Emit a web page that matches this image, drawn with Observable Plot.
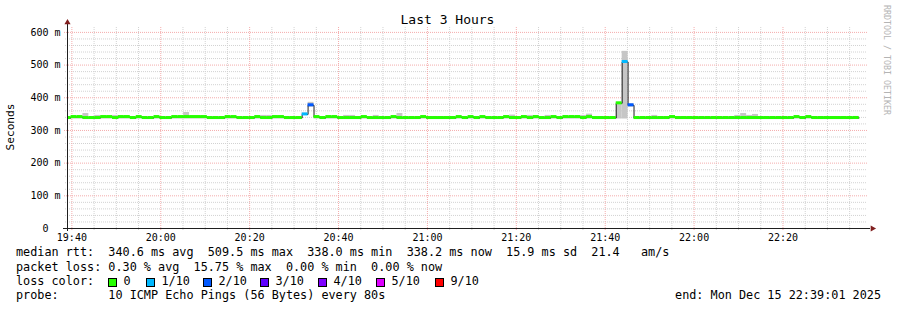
<!DOCTYPE html>
<html><head><meta charset="utf-8">
<script src="https://cdn.jsdelivr.net/npm/d3@7"></script>
<script src="https://cdn.jsdelivr.net/npm/@observablehq/plot@0.6"></script>
<style>
html,body{margin:0;padding:0;background:#fff;}
#wrap{position:relative;width:897px;height:310px;overflow:hidden;font-family:"DejaVu Sans Mono",monospace;color:#000;background:#fff;}
#wrap > svg{position:absolute;left:0;top:0;}
.t{position:absolute;white-space:pre;line-height:1;}
.sq{position:absolute;width:9px;height:9px;box-sizing:border-box;border:1px solid #000;}
</style></head><body><div id="wrap"></div>
<script>
// ---- data ----
const titleText = "Last 3 Hours";
const yAxisTitle = "Seconds";
const viewStart = new Date("2025-12-15T19:39:01Z");
const viewEnd = new Date("2025-12-15T22:39:01Z");
const firstSampleStart = new Date("2025-12-15T19:38:29Z");
const stepSeconds = 80;

const medianMs = [
  338,341,341,338,338,338,341,341,338,341,
  341,338,341,338,338,341,338,338,341,341,
  341,341,341,341,338,338,338,341,341,338,
  338,338,341,338,338,341,341,338,338,338,
  349,377,341,338,341,341,338,338,338,338,
  341,338,338,338,338,341,338,338,338,338,
  341,338,338,338,338,338,341,338,341,338,
  341,338,338,338,341,338,338,341,338,341,
  338,338,341,338,341,341,341,338,341,338,
  338,338,338,383,509.5,377,338,338,338,338,
  338,338,341,338,338,338,338,338,338,338,
  338,338,338,338,338,338,338,338,338,338,
  338,338,338,341,338,341,338,338,338,338,
  338,338,338,338.2
];
const lostPings = [
  0,0,0,0,0,0,0,0,0,0, 0,0,0,0,0,0,0,0,0,0,
  0,0,0,0,0,0,0,0,0,0, 0,0,0,0,0,0,0,0,0,0,
  1,2,0,0,0,0,0,0,0,0, 0,0,0,0,0,0,0,0,0,0,
  0,0,0,0,0,0,0,0,0,0, 0,0,0,0,0,0,0,0,0,0,
  0,0,0,0,0,0,0,0,0,0, 0,0,0,0,1,2,0,0,0,0,
  0,0,0,0,0,0,0,0,0,0, 0,0,0,0,0,0,0,0,0,0,
  0,0,0,0,0,0,0,0,0,0, 0,0,0,0
];
const smokeHiMs = [
  342,342,342,352,342,346,342,342,346,342,
  342,342,342,342,342,342,342,342,342,342,
  355,342,342,342,342,342,342,342,342,342,
  342,342,342,346,346,342,342,342,342,342,
  353,386,342,342,342,342,342,346,346,342,
  342,342,346,342,342,342,352,342,342,342,
  342,342,342,342,342,342,342,342,342,342,
  342,342,342,342,342,347,342,342,346,342,
  342,346,342,342,342,342,342,346,350,342,
  342,342,342,386,542,381,342,342,342,346,
  342,342,342,342,342,342,342,342,342,342,
  342,342,342,346,352,346,349,342,342,342,
  342,342,342,342,342,342,342,342,342,342,
  342,342,342,342
];
const smokeLoMs = [
  335,335,335,335,335,335,335,335,335,335, 335,335,335,335,335,335,335,335,335,335,
  335,335,335,335,335,335,335,335,335,335, 335,335,335,335,335,335,335,335,335,335,
  346,371,335,335,335,335,335,335,335,335, 335,335,335,335,335,335,335,335,335,335,
  335,335,335,335,335,335,335,335,335,335, 335,335,335,335,335,335,335,335,335,335,
  335,335,335,335,335,335,335,335,335,335, 335,335,335,335,335,371,335,335,335,335,
  335,335,335,335,335,335,335,335,335,335, 335,335,335,335,335,335,335,335,335,335,
  335,335,335,335,335,335,335,335,335,335, 335,335,335,335
];

const lossLevels = [0, 1, 2, 3, 4, 5, 9];
const lossLabels = ["0", "1/10", "2/10", "3/10", "4/10", "5/10", "9/10"];
const lossColors = ["#26ff00", "#00b8ff", "#0059ff", "#5e00ff", "#7e00ff", "#dd00ff", "#ff0000"];

const yTicks = [0, 100, 200, 300, 400, 500, 600];
const yTickLabels = ["0\u00a0\u00a0", "100 m", "200 m", "300 m", "400 m", "500 m", "600 m"];
const xTickLabels = ["19:40", "20:00", "20:20", "20:40", "21:00", "21:20", "21:40", "22:00", "22:20"];

const legendLine1 = "median rtt:  340.6 ms avg  509.5 ms max  338.0 ms min  338.2 ms now  15.9 ms sd  21.4   am/s";
const legendLine2 = "packet loss: 0.30 % avg  15.75 % max  0.00 % min  0.00 % now";
const legendLine3 = "loss color:";
const legendLine4 = "probe:       10 ICMP Echo Pings (56 Bytes) every 80s";
const endText = "end: Mon Dec 15 22:39:01 2025";
const watermark = "RRDTOOL / TOBI OETIKER";

// ---- build ----
const halfBand = 4.6; // ms, half thickness of loss-coloured median band
const rows = medianMs.map((m, i) => {
  const t0 = new Date(+firstSampleStart + i * stepSeconds * 1000);
  const t1 = new Date(+t0 + stepSeconds * 1000);
  return {t0, t1, median: m, loss: lostPings[i], lo: smokeLoMs[i], hi: smokeHiMs[i]};
});
function lossColor(l) {
  let c = lossColors[0];
  lossLevels.forEach((lv, j) => { if (l >= lv) c = lossColors[j]; });
  return c;
}
const linePts = rows.map(r => ({t: r.t0, v: r.median}));
linePts.push({t: rows[rows.length - 1].t1, v: rows[rows.length - 1].median});

const majorX = xTickLabels.map(l => new Date(`2025-12-15T${l}:00Z`));
const majorSet = new Set(majorX.map(d => +d));
const minorX = d3.utcMinute.every(5).range(viewStart, viewEnd).filter(d => !majorSet.has(+d));
const majorY = yTicks.filter(d => d > 0);
const minorY = d3.range(20, 615, 20).filter(d => d % 100 !== 0);
const yLabelMap = new Map(yTicks.map((d, i) => [d, yTickLabels[i]]));
const xLabelMap = new Map(majorX.map((d, i) => [+d, xTickLabels[i]]));

const gridMinor = "#d2d2d2", gridMajor = "#f4acac", axisCol = "#1f1f1f", arrowCol = "#801f1f";

const plot = Plot.plot({
  width: 897, height: 310,
  marginLeft: 67, marginRight: 30, marginTop: 27, marginBottom: 82,
  style: {fontFamily: "DejaVu Sans Mono", fontSize: "10px", color: "#000", background: "transparent"},
  x: {type: "utc", domain: [viewStart, viewEnd]},
  y: {domain: [0, 615]},
  marks: [
    Plot.ruleX(minorX, {stroke: gridMinor, strokeDasharray: "1,1", insetBottom: -2}),
    Plot.ruleY(minorY, {stroke: gridMinor, strokeDasharray: "1,1", insetLeft: -2}),
    Plot.ruleX(majorX, {stroke: gridMajor, strokeDasharray: "1,1", insetBottom: -3}),
    Plot.ruleY(majorY, {stroke: gridMajor, strokeDasharray: "1,1", insetLeft: -3}),
    Plot.rectY(rows, {x1: "t0", x2: "t1", y1: "lo", y2: "hi", fill: "#c6c6c6", clip: true}),
    Plot.line(linePts, {x: "t", y: "v", curve: "step-after", stroke: "#202020", strokeWidth: 1, clip: true}),
    Plot.rectY(rows, {x1: "t0", x2: "t1", y1: d => d.median - halfBand, y2: d => d.median + halfBand, fill: d => lossColor(d.loss), clip: true}),
    Plot.ruleX([viewStart], {stroke: axisCol, insetTop: -5, insetBottom: -3}),
    Plot.ruleY([0], {stroke: axisCol, insetLeft: -4, insetRight: -3}),
    Plot.dot([viewStart], {x: d => d, y: () => 615, dy: -5, symbol: "triangle", r: 2.3, fill: arrowCol, stroke: "none"}),
    Plot.dot([viewEnd], {x: d => d, y: () => 0, dx: 5, symbol: "triangle", rotate: 90, r: 2.3, fill: arrowCol, stroke: "none"}),
    Plot.axisY(yTicks, {tickSize: 0, tickPadding: 7, tickFormat: d => yLabelMap.get(d), fill: "#000"}),
    Plot.axisX(majorX, {tickSize: 0, tickPadding: 5, tickFormat: d => xLabelMap.get(+d), fill: "#000"})
  ]
});

const wrap = document.getElementById("wrap");
wrap.appendChild(plot);

function addText(txt, left, baseline, fs, extra) {
  const el = document.createElement("div");
  el.className = "t";
  el.textContent = txt;
  el.style.fontSize = fs + "px";
  el.style.left = left + "px";
  el.style.top = (baseline - 0.846 * fs) + "px";
  if (extra) Object.assign(el.style, extra);
  wrap.appendChild(el);
  return el;
}
// title
addText(titleText, 0, 24, 13, {width: "895px", textAlign: "center"});
// y title
const yt = document.createElement("div");
yt.className = "t"; yt.textContent = yAxisTitle;
Object.assign(yt.style, {fontSize: "11.2px", left: "11px", top: "127px", transform: "translate(-50%,-50%) rotate(-90deg)"});
wrap.appendChild(yt);
// watermark
const wm = document.createElement("div");
wm.className = "t"; wm.textContent = watermark;
Object.assign(wm.style, {fontSize: "8.3px", color: "#b4b4b4", left: "887px", top: "60px", transform: "translate(-50%,-50%) rotate(90deg)"});
wrap.appendChild(wm);
// legend
const lfs = 11.8;
addText(legendLine1, 16, 257.3, lfs);
addText(legendLine2, 16, 271.6, lfs);
addText(legendLine3, 16, 285.9, lfs);
addText(legendLine4, 16, 300.2, lfs);
addText(endText, 0, 300.2, lfs, {left: "auto", right: "16px"});
const sqX = [108, 146, 203, 260, 318, 376, 435];
lossLabels.forEach((lab, i) => {
  const sq = document.createElement("div");
  sq.className = "sq";
  Object.assign(sq.style, {left: sqX[i] + "px", top: "278px", background: lossColors[i]});
  wrap.appendChild(sq);
  addText(lab, sqX[i] + 15.5, 285.9, lfs);
});
</script>
</body></html>
